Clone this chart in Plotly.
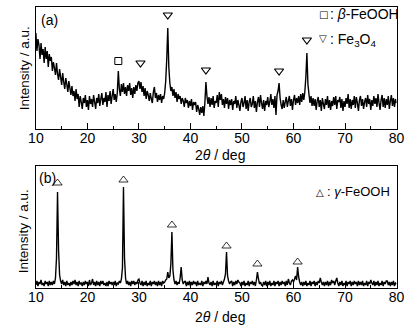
import numpy as np
import plotly.graph_objects as go

# 2-theta sampling grid (deg), 0.2 deg step
two_theta = np.round(np.arange(10.0, 80.0001, 0.2), 1)

# (a) intensity, one row per degree (5 samples each)
intensity_a = [
    96, 78, 90, 84, 70,
    86, 74, 80, 66, 82,
    70, 78, 62, 75, 68,
    72, 58, 67, 61, 54,
    66, 55, 49, 60, 52,
    44, 56, 47, 40, 51,
    45, 37, 48, 41, 34,
    43, 33, 38, 28, 40,
    30, 35, 22, 33, 27,
    20, 31, 26, 34, 22,
    29, 19, 33, 25, 30,
    22, 34, 27, 20, 31,
    26, 35, 23, 30, 36,
    24, 31, 27, 37, 22,
    34, 28, 38, 25, 33,
    40, 29, 35, 27, 36,
    58, 40, 33, 45, 37,
    46, 35, 42, 33, 44,
    38, 46, 34, 41, 31,
    42, 35, 44, 38, 46,
    48, 40, 47, 37, 43,
    33, 41, 30, 38, 34,
    28, 36, 30, 26, 37,
    42, 31, 36, 27, 34,
    29, 35, 26, 33, 30,
    36, 48, 70, 101, 62,
    46, 38, 42, 33, 40,
    31, 37, 27, 35, 30,
    33, 25, 31, 28, 22,
    31, 26, 29, 21, 28,
    23, 30, 19, 27, 24,
    27, 17, 24, 20, 14,
    22, 16, 23, 13, 26,
    47, 33, 25, 32, 22,
    31, 24, 33, 21, 28,
    26, 34, 22, 37, 29,
    35, 24, 30, 21, 32,
    25, 31, 20, 29, 24,
    30, 19, 28, 25, 33,
    21, 29, 24, 18, 27,
    31, 22, 26, 33, 20,
    29, 18, 27, 31, 22,
    25, 33, 21, 28, 17,
    27, 32, 22, 34, 26,
    20, 29, 18, 28, 24,
    32, 22, 27, 35, 24,
    30, 21, 33, 14, 34,
    38, 46, 31, 24, 20,
    29, 21, 27, 32, 22,
    28, 33, 23, 30, 19,
    29, 34, 24, 31, 26,
    33, 24, 35, 27, 36,
    29, 37, 52, 76, 45,
    35, 26, 33, 23, 31,
    23, 30, 19, 28, 32,
    22, 29, 18, 31, 25,
    20, 30, 24, 33, 21,
    29, 19, 28, 23, 32,
    24, 33, 20, 29, 27,
    32, 21, 30, 18, 28,
    22, 31, 25, 35, 21,
    30, 20, 29, 24, 33,
    21, 32, 26, 18, 29,
    33, 23, 30, 20, 27,
    31, 22, 34, 25, 30,
    19, 29, 23, 33, 25,
    31, 22, 35, 26, 19,
    29, 34, 22, 31, 21,
    30, 24, 33, 20, 28,
    34, 23, 31, 22, 30,
    26,
]

# (b) intensity, one row per degree (5 samples each)
intensity_b = [
    3, 7, 2, 6, 4,
    8, 3, 5, 2, 7,
    4, 6, 2, 7, 3,
    6, 3, 7, 4, 10,
    30, 96, 38, 13, 7,
    4, 8, 3, 6, 2,
    7, 3, 5, 2, 6,
    3, 7, 4, 8, 3,
    6, 2, 7, 4, 5,
    2, 6, 3, 7, 4,
    6, 2, 8, 3, 5,
    9, 3, 6, 2, 7,
    3, 6, 2, 7, 4,
    7, 3, 5, 2, 6,
    2, 7, 4, 6, 3,
    6, 3, 7, 2, 5,
    4, 7, 5, 9, 20,
    101, 30, 10, 4, 7,
    3, 6, 2, 7, 4,
    7, 3, 6, 4, 8,
    9, 5, 3, 7, 2,
    6, 3, 7, 2, 5,
    3, 7, 2, 6, 4,
    7, 3, 6, 2, 7,
    3, 6, 2, 7, 5,
    6, 8, 9, 16, 10,
    12, 24, 56, 18, 8,
    4, 7, 3, 6, 4,
    10, 21, 8, 4, 6,
    7, 2, 6, 3, 7,
    2, 6, 3, 7, 4,
    6, 2, 7, 3, 5,
    3, 7, 2, 6, 4,
    7, 4, 11, 5, 3,
    6, 2, 7, 3, 5,
    3, 7, 2, 6, 4,
    7, 3, 6, 9, 14,
    36, 12, 7, 4, 6,
    7, 2, 6, 3, 7,
    4, 8, 6, 5, 2,
    6, 3, 7, 2, 5,
    3, 7, 2, 6, 4,
    7, 3, 6, 2, 8,
    16, 9, 4, 6, 3,
    2, 6, 3, 7, 2,
    6, 3, 7, 2, 5,
    3, 7, 2, 6, 4,
    7, 2, 6, 3, 7,
    4, 6, 2, 7, 3,
    9, 5, 3, 7, 8,
    6, 9, 12, 8, 21,
    11, 6, 3, 6, 2,
    6, 3, 7, 2, 5,
    3, 7, 2, 6, 4,
    7, 2, 6, 3, 7,
    5, 10, 6, 3, 6,
    2, 6, 3, 7, 2,
    6, 3, 8, 5, 7,
    3, 7, 10, 5, 2,
    6, 3, 7, 2, 5,
    3, 7, 2, 6, 4,
    7, 2, 6, 3, 7,
    4, 6, 2, 7, 3,
    6, 3, 7, 2, 5,
    3, 7, 2, 6, 4,
    8, 5, 3, 7, 2,
    6, 3, 7, 2, 5,
    3, 7, 2, 6, 4,
    7, 7, 3, 6, 2,
    6, 3, 7, 2, 5,
    4,
]

# Phase markers: peak positions (deg) and marker heights
beta_feooh_pos = [26.0]
beta_feooh_h = [68]
fe3o4_pos = [30.3, 35.6, 43.0, 57.2, 62.6]
fe3o4_h = [66, 114, 59, 58, 89]
gamma_feooh_pos = [14.2, 27.0, 36.4, 47.0, 53.0, 60.8]
gamma_feooh_h = [105, 108, 63, 42, 24, 26]

x_ticks = [10, 20, 30, 40, 50, 60, 70, 80]

W, H = 418, 334
FONT = "Arial, Liberation Sans, sans-serif"
SYM_FONT = "DejaVu Sans, sans-serif"


def px(x):
    return x / W


def py(y):
    return (H - y) / H


fig = go.Figure()

trace_line = dict(color="black", width=1.4, simplify=False)

fig.add_trace(go.Scatter(x=two_theta, y=intensity_a, mode="lines",
                         line=trace_line,
                         xaxis="x", yaxis="y", showlegend=False))
fig.add_trace(go.Scatter(x=beta_feooh_pos, y=beta_feooh_h, mode="markers",
                         marker=dict(symbol="square-open", size=7,
                                     color="black", line=dict(width=1)),
                         xaxis="x", yaxis="y", showlegend=False))
fig.add_trace(go.Scatter(x=fe3o4_pos, y=fe3o4_h, mode="markers",
                         marker=dict(symbol="triangle-down-open", size=8,
                                     color="black", line=dict(width=1.2)),
                         xaxis="x", yaxis="y", showlegend=False))

fig.add_trace(go.Scatter(x=two_theta, y=intensity_b, mode="lines",
                         line=trace_line,
                         xaxis="x2", yaxis="y2", showlegend=False))
fig.add_trace(go.Scatter(x=gamma_feooh_pos, y=gamma_feooh_h, mode="markers",
                         marker=dict(symbol="triangle-up-open", size=8,
                                     color="black", line=dict(width=0.8)),
                         xaxis="x2", yaxis="y2", showlegend=False))

x_dom = [px(29), px(404)]
xaxis_style = dict(
    range=[10, 80], tickvals=x_ticks, ticks="inside", ticklen=6,
    tickwidth=1, tickcolor="black", showline=True, linecolor="black",
    linewidth=1, mirror=True, showgrid=False, zeroline=False,
    tickfont=dict(family=FONT, size=14, color="black"),
    ticklabelstandoff=-4,
    minor=dict(dtick=5, ticks="inside", ticklen=3, tickcolor="black",
               showgrid=False),
    domain=x_dom,
)
yaxis_style = dict(
    range=[0, 122], showticklabels=False, ticks="", showline=True,
    linecolor="black", linewidth=1, mirror=True, showgrid=False,
    zeroline=False,
)

fig.update_layout(
    width=W, height=H,
    margin=dict(l=0, r=0, t=0, b=0),
    paper_bgcolor="white", plot_bgcolor="white",
    xaxis=dict(xaxis_style, anchor="y"),
    yaxis=dict(yaxis_style, domain=[py(129), py(7)], anchor="x"),
    xaxis2=dict(xaxis_style, anchor="y2"),
    yaxis2=dict(yaxis_style, domain=[py(288), py(166)], anchor="x2"),
)

ann = []


def label(text, x, y, size=14, xanchor="center", family=FONT, angle=0):
    ann.append(dict(text=text, x=px(x), y=py(y), xref="paper", yref="paper",
                    xanchor=xanchor, yanchor="middle", showarrow=False,
                    textangle=angle,
                    font=dict(family=family, size=size, color="black")))


# panel tags
label("(a)", 32, 20, xanchor="left")
label("(b)", 30, 178, xanchor="left")

# axis titles
label("2<i>θ</i> / deg", 220, 155)
label("2<i>θ</i> / deg", 220, 317)
label("Intensity / a.u.", 17, 68, size=13.5, angle=-90)
label("Intensity / a.u.", 17, 231, size=13.5, angle=-90)

# phase keys
label("□", 328, 15, size=10, family=SYM_FONT)
label(": <i>β</i>-FeOOH", 333, 14, size=14, xanchor="left")
label("▽", 328, 38, size=10, family=SYM_FONT)
label(": Fe<sub>3</sub>O<sub>4</sub>", 333, 40, size=14, xanchor="left")
label("△", 324, 192, size=10, family=SYM_FONT)
label(": <i>γ</i>-FeOOH", 330, 191, size=13, xanchor="left")

fig.update_layout(annotations=ann)

fig.write_html("out.html")
